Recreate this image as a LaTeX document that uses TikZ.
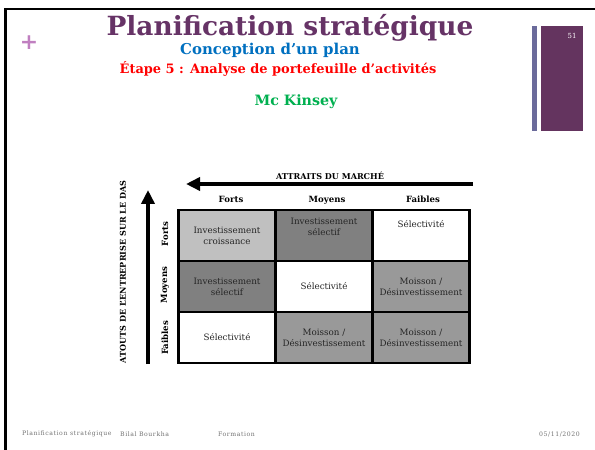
\documentclass[tikz,border=0pt]{standalone}
\usepackage{fontspec}
\setmainfont{DejaVu Serif}
\newfontfamily\footfont[LetterSpace=9]{DejaVu Serif}
\usetikzlibrary{arrows.meta}
\definecolor{titlepurple}{HTML}{663366}
\definecolor{barpurple}{HTML}{64345F}
\definecolor{barblue}{HTML}{6B6B9B}
\definecolor{pluspink}{HTML}{C07FC0}
\definecolor{subblue}{HTML}{0070C0}
\definecolor{subred}{HTML}{FF0000}
\definecolor{subgreen}{HTML}{00B050}
\definecolor{cell_light}{HTML}{C0C0C0}
\definecolor{cell_dark}{HTML}{808080}
\definecolor{cell_mid}{HTML}{999999}
\tikzset{
	cell/.style = {
		rectangle,
		draw=black,
		line width=2.5bp,
		align=center,
		inner sep=1pt,
		minimum width=97bp,
		minimum height=51bp,
		font=\fontsize{8.8}{11}\selectfont,
		text=black!85
	},
	cell_w/.style = {
		cell,
		fill=white
	},
	cell_l/.style = {
		cell,
		fill=cell_light
	},
	cell_d/.style = {
		cell,
		fill=cell_dark
	},
	cell_m/.style = {
		cell,
		fill=cell_mid
	},
	head/.style = {
		font=\bfseries\fontsize{8.6}{9}\selectfont,
		inner sep=0pt
	},
	axis_label/.style = {
		font=\bfseries\fontsize{8.1}{9}\selectfont,
		inner sep=0pt
	},
	axis_arrow/.style = {
		line width=4bp,
		-{Triangle[length=14bp,width=13bp]}
	},
	foot/.style = {
		font=\footfont\fontsize{6.2}{7}\selectfont,
		text=black!55,
		inner sep=0pt
	}
}

\begin{document}
\begin{tikzpicture}[x=1bp,y=-1bp]
\useasboundingbox (0,0) rectangle (595,450);
\fill[white] (0,0) rectangle (595,450);
% slide frame
\draw[line width=2.5bp] (5.5,450) -- (5.5,9) -- (595,9);
\node[text=pluspink, font=\bfseries\fontsize{22}{22}\selectfont] (plus) at (29,43) {+};
\fill[barblue] (532,26) rectangle (537,131);
\fill[barpurple] (541,26) rectangle (583,131);
\node[text=white, font=\fontsize{7}{7}\selectfont] (num) at (572,36) {51};

% headings
\node[text=titlepurple, font=\bfseries\fontsize{26.5}{27}\selectfont] (title) at (290,28) {Planification stratégique};
\node[text=subblue, font=\bfseries\fontsize{15}{15}\selectfont] (sub1) at (270,50) {Conception d’un plan};
\node[text=subred, font=\bfseries\fontsize{13}{13}\selectfont] (sub2) at (278,69) {Étape 5 : Analyse de portefeuille d’activités};
\node[text=subgreen, font=\bfseries\fontsize{14.3}{15}\selectfont] (sub3) at (296,102) {Mc Kinsey};

% matrix
\node[cell_l] (c11) at (227,235.5) {Investissement\\croissance};
\node[cell_d] (c12) at (324,235.5) {Investissement\\sélectif\\[7bp]};
\node[cell_w] (c13) at (421,235.5) {Sélectivité\\[12bp]};
\node[cell_d] (c21) at (227,286.5) {Investissement\\sélectif};
\node[cell_w] (c22) at (324,286.5) {Sélectivité};
\node[cell_m] (c23) at (421,286.5) {Moisson /\\Désinvestissement};
\node[cell_w] (c31) at (227,337.5) {Sélectivité};
\node[cell_m] (c32) at (324,337.5) {Moisson /\\Désinvestissement};
\node[cell_m] (c33) at (421,337.5) {Moisson /\\Désinvestissement};

\node[head] (h_forts) at (231,199) {Forts};
\node[head] (h_moyens) at (327,200) {Moyens};
\node[head] (h_faibles) at (423,199) {Faibles};
\node[head, rotate=90] (r_forts) at (165,234) {Forts};
\node[head, rotate=90] (r_moyens) at (165,285) {Moyens};
\node[head, rotate=90] (r_faibles) at (165,338) {Faibles};

% axes
\coordinate (top_start) at (473,184);
\coordinate (top_end) at (186,184);
\draw[axis_arrow] (top_start) -- (top_end);
\node[axis_label] (attraits) at (330,176) {ATTRAITS DU MARCHÉ};
\coordinate (left_start) at (148,364);
\coordinate (left_end) at (148,190);
\draw[axis_arrow] (left_start) -- (left_end);
\node[axis_label, rotate=90] (atouts) at (123,272) {ATOUTS DE L’ENTREPRISE SUR LE DAS};

% footer
\node[foot, anchor=west] (f1) at (22,434) {Planification stratégique};
\node[foot, anchor=west] (f2) at (120,434) {Bilal Bourkha};
\node[foot, anchor=west] (f3) at (218,434) {Formation};
\node[foot, anchor=east] (f4) at (580,434) {05/11/2020};
\end{tikzpicture}
\end{document}
